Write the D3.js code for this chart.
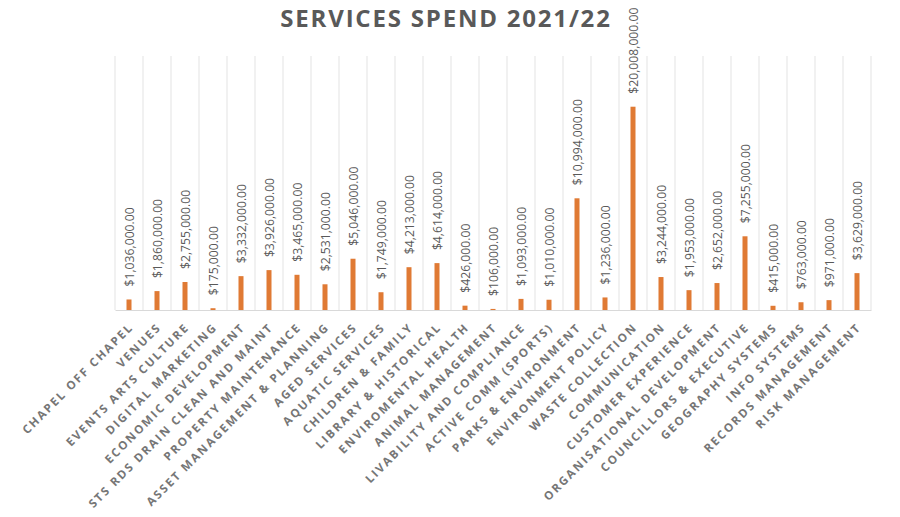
<!DOCTYPE html>
<html>
<head>
<meta charset="utf-8">
<script src="https://cdn.jsdelivr.net/npm/d3@7"></script>
<style>
  body { margin: 0; background: #fff; }
  svg { display: block; }
  .cat text { font-family: "Open Sans", sans-serif; font-weight: bold; font-size: 11.6px; fill: #767676; letter-spacing: 2px; }
</style>
</head>
<body>
<svg id="chart" width="900" height="517"></svg>
<script>
var services = ["CHAPEL OFF CHAPEL", "VENUES", "EVENTS ARTS CULTURE", "DIGITAL MARKETING",
  "ECONOMIC DEVELOPMENT", "STS RDS DRAIN CLEAN AND MAINT", "PROPERTY MAINTENANCE",
  "ASSET MANAGEMENT & PLANNING", "AGED SERVICES", "AQUATIC SERVICES", "CHILDREN & FAMILY",
  "LIBRARY & HISTORICAL", "ENVIROMENTAL HEALTH", "ANIMAL MANAGEMENT", "LIVABILITY AND COMPLIANCE",
  "ACTIVE COMM (SPORTS)", "PARKS & ENVIRONMENT", "ENVIRONMENT POLICY", "WASTE COLLECTION",
  "COMMUNICATION", "CUSTOMER EXPERIENCE", "ORGANISATIONAL DEVELOPMENT", "COUNCILLORS & EXECUTIVE",
  "GEOGRAPHY SYSTEMS", "INFO SYSTEMS", "RECORDS MANAGEMENT", "RISK MANAGEMENT"];

var spend = [1036000, 1860000, 2755000, 175000, 3332000, 3926000, 3465000, 2531000, 5046000,
  1749000, 4213000, 4614000, 426000, 106000, 1093000, 1010000, 10994000, 1236000, 20008000,
  3244000, 1953000, 2652000, 7255000, 415000, 763000, 971000, 3629000];

var title = "SERVICES SPEND 2021/22";

var svg = d3.select("#chart");
var plotLeft = 115, plotRight = 871, plotTop = 56, plotBottom = 310;

var x = d3.scaleBand().domain(services).range([plotLeft, plotRight]);
var y = d3.scaleLinear().domain([0, 25000000]).range([plotBottom, plotTop]);
var fmt = d3.format("$,.2f");

// vertical lines between categories
var edges = services.map(function(d) { return x(d); }).concat([plotRight]);
svg.append("g").selectAll("line")
  .data(edges)
  .enter()
  .append("line")
    .attr("x1", function(d) { return d; })
    .attr("x2", function(d) { return d; })
    .attr("y1", plotTop)
    .attr("y2", plotBottom)
    .attr("stroke", "#e3e3e3")
    .attr("stroke-width", 1);

// bars
svg.append("g").selectAll("rect")
  .data(spend)
  .enter()
  .append("rect")
    .attr("x", function(d, i) { return x(services[i]) + x.bandwidth() / 2 - 2.5; })
    .attr("width", 5)
    .attr("y", function(d) { return y(d); })
    .attr("height", function(d) { return plotBottom - y(d); })
    .attr("fill", "#e07a34");

// value labels
svg.append("g").selectAll("text")
  .data(spend)
  .enter()
  .append("text")
    .attr("transform", function(d, i) {
      return "translate(" + (x(services[i]) + x.bandwidth() / 2 + 1) + "," + (y(d) - 13) + ") rotate(-90)";
    })
    .attr("dy", "0.35em")
    .attr("font-family", "Open Sans, sans-serif")
    .attr("font-size", "12.2px")
    .attr("fill", "#595959")
    .text(function(d) { return fmt(d); });

// category axis
var axis = svg.append("g")
  .attr("class", "cat")
  .attr("transform", "translate(0," + plotBottom + ")")
  .call(d3.axisBottom(x).tickSize(0));
axis.select(".domain").attr("stroke", "#d9d9d9");
axis.selectAll("text")
  .attr("text-anchor", "end")
  .attr("dy", null)
  .attr("y", 0)
  .attr("transform", "translate(5,18) rotate(-45)");

svg.append("text")
  .attr("x", 446)
  .attr("y", 27)
  .attr("text-anchor", "middle")
  .attr("font-family", "Open Sans, sans-serif")
  .attr("font-weight", "bold")
  .attr("font-size", "24px")
  .attr("letter-spacing", "1.8px")
  .attr("fill", "#595959")
  .text(title);
</script>
</body>
</html>
